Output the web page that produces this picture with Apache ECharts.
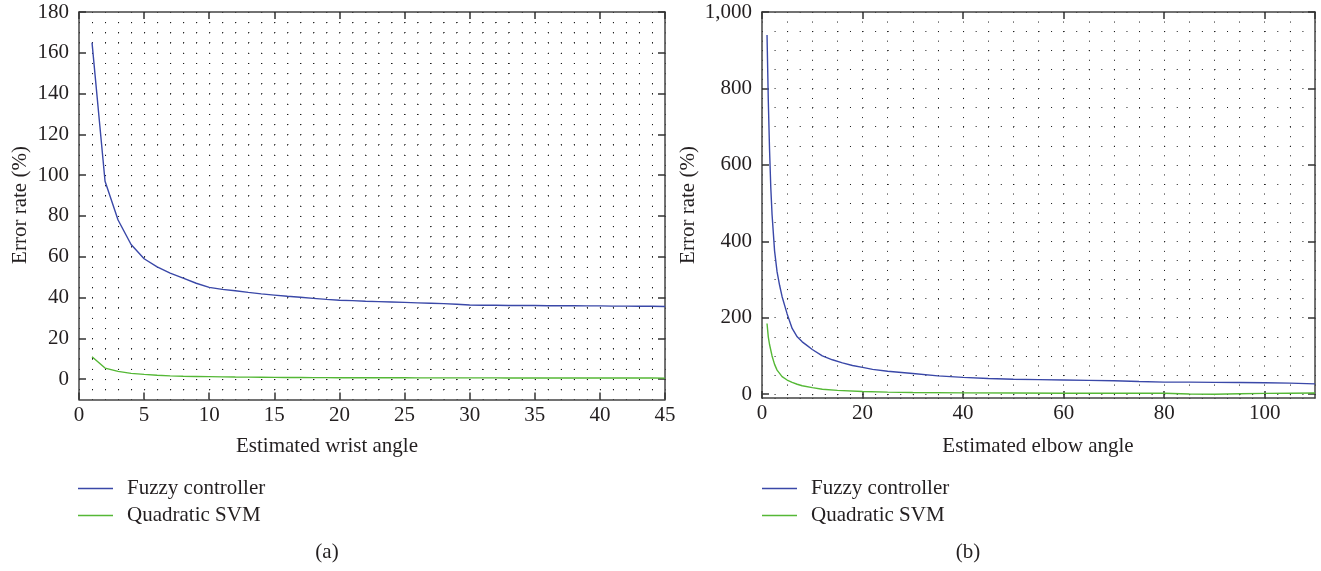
<!DOCTYPE html>
<html><head><meta charset="utf-8">
<script src="https://cdn.jsdelivr.net/npm/echarts@6/dist/echarts.min.js"></script>
<style>html,body{margin:0;padding:0;background:#fff}#c{width:1321px;height:571px}</style>
</head><body><div id="c"></div>
<script>
// ---------- DATA ----------
const wristAngle = [1,2,3,4,5,6,7,8,9,10,11,12,13,14,15,16,17,18,19,20,21,22,23,24,25,26,27,28,29,30,31,32,33,34,35,36,37,38,39,40,41,42,43,44,45];
const fuzzyWrist = [165,97,78,66,59,55,52,49.5,47,45,44,43.3,42.5,41.8,41.2,40.6,40.1,39.6,39.1,38.7,38.5,38.2,38,37.8,37.6,37.4,37.2,37,36.7,36.3,36.2,36.2,36.1,36.1,36.1,36,36,36,35.9,35.9,35.8,35.8,35.7,35.7,35.6];
const svmWrist = [11,5.4,3.8,2.8,2.3,1.9,1.6,1.4,1.3,1.2,1.1,1.0,0.95,0.9,0.85,0.8,0.78,0.75,0.72,0.7,0.68,0.66,0.65,0.64,0.63,0.62,0.61,0.6,0.6,0.59,0.58,0.58,0.57,0.57,0.56,0.56,0.55,0.55,0.54,0.54,0.53,0.53,0.52,0.52,0.5];

const fuzzyElbowAngle = [1,1.25,1.5,1.75,2,2.5,3,3.5,4,5,6,7,8,9,10,12,14,16,18,20,22,25,30,35,40,45,50,55,60,65,70,75,80,85,90,95,100,105,110];
const fuzzyElbow = [940,770,640,540,470,375,320,285,255,210,172,150,137,127,117,100,90,82,75,70,65,60,54,48,44,41,39,38,37,36,35,33,31.5,31.5,31,30.5,30,29,27];
const svmElbowAngle = [1,1.25,1.5,2,2.5,3,4,5,6,7,8,10,12,15,20,25,30,40,50,60,70,80,85,90,95,100,105,110];
const svmElbow = [185,150,130,100,78,63,46,37,31,26,22,17,13,10,7,5.5,4.5,3.5,3,2.5,2.5,2.5,0.5,0,1,2,2.5,3];

const wristYTicks = [0,20,40,60,80,100,120,140,160,180];
const elbowYTicks = [0,200,400,600,800,1000];
const seriesNames = ['Fuzzy controller','Quadratic SVM'];

// ---------- STYLE / LAYOUT ----------
const FONT = 'Liberation Serif';
const FS = 21;
const TXT = '#231f20';
const BLUE = '#3a48a8', GREEN = '#55b836';
const G1 = {left:79, top:12, width:586, height:387.5};
const G2 = {left:762, top:12, width:553, height:386};
const DOT = '#1a1a1a';

const lab = {fontFamily:FONT, fontSize:FS, color:TXT};
const axLine = {show:true, onZero:false, lineStyle:{color:'#444', width:1.5}};
const tick = (cv) => Object.assign({show:true, inside:true, length:7, lineStyle:{color:'#333', width:1.5}}, cv ? {customValues:cv} : {});

function visX(grid, min, max, interval, pos, showLab){
  return {type:'value', gridIndex:grid, position:pos, min, max, interval,
    axisLine:axLine, axisTick:tick(), splitLine:{show:false},
    axisLabel:{show:showLab, margin:5, showMaxLabel: max % interval === 0, ...lab}};
}
function visY(grid, min, max, ticks, pos, showLab, fmt){
  return {type:'value', gridIndex:grid, position:pos, min, max,
    axisLine:axLine, axisTick:tick(ticks), splitLine:{show:false},
    axisLabel:{show:showLab, margin:10, customValues:ticks, formatter:fmt, ...lab}};
}
function dotAxis(grid, min, max, interval, pos, period, inverse){
  return {type:'value', gridIndex:grid, position:pos, min, max, interval, inverse:!!inverse,
    axisLine:{show:false}, axisTick:{show:false}, axisLabel:{show:false},
    splitLine:{show:true, lineStyle:{color:DOT, width:1, type:[1, period-1]}}};
}

const vP1 = G1.height*5/190, hP1 = G1.width/45;
const vP2 = G2.height*25/1010, hP2 = G2.width*2.5/110;

const pairs = (xs, ys) => xs.map((x,i)=>[x, ys[i]]);
const thousand = v => Number(v).toLocaleString('en-US');
const font = FS + 'px "' + FONT + '"';

function legendAt(left){
  return {left, top:478, orient:'vertical', padding:0, icon:'rect', itemWidth:35, itemHeight:1.3, itemGap:6,
    data:seriesNames, selectedMode:false, textStyle:{...lab, lineHeight:20, padding:[0,0,0,9]}};
}

const option = {
  animation:false,
  backgroundColor:'#fff',
  grid:[Object.assign({containLabel:false}, G1), Object.assign({containLabel:false}, G2)],
  xAxis:[
    visX(0,0,45,5,'bottom',true),
    visX(0,0,45,5,'top',false),
    dotAxis(0,0,45,1,'bottom',vP1),
    visX(1,0,110,20,'bottom',true),
    visX(1,0,110,20,'top',false),
    dotAxis(1,0,110,5,'bottom',vP2)
  ],
  yAxis:[
    visY(0,-10,180,wristYTicks,'left',true),
    visY(0,-10,180,wristYTicks,'right',false),
    dotAxis(0,-10,180,5,'left',hP1),
    visY(1,-10,1000,elbowYTicks,'left',true,thousand),
    visY(1,-10,1000,elbowYTicks,'right',false),
    dotAxis(1,-1000,10,50,'left',hP2,true)
  ],
  legend:[legendAt(78), legendAt(762)],
  series:[
    {name:seriesNames[0], type:'line', xAxisIndex:0, yAxisIndex:0, symbol:'none', data:pairs(wristAngle,fuzzyWrist), lineStyle:{color:BLUE,width:1.4}, itemStyle:{color:BLUE}},
    {name:seriesNames[1], type:'line', xAxisIndex:0, yAxisIndex:0, symbol:'none', data:pairs(wristAngle,svmWrist), lineStyle:{color:GREEN,width:1.4}, itemStyle:{color:GREEN}},
    {name:seriesNames[0], type:'line', xAxisIndex:3, yAxisIndex:3, symbol:'none', data:pairs(fuzzyElbowAngle,fuzzyElbow), lineStyle:{color:BLUE,width:1.4}, itemStyle:{color:BLUE}},
    {name:seriesNames[1], type:'line', xAxisIndex:3, yAxisIndex:3, symbol:'none', data:pairs(svmElbowAngle,svmElbow), lineStyle:{color:GREEN,width:1.4}, itemStyle:{color:GREEN}}
  ],
  graphic:[
    {type:'text', x:20, y:205, rotation:Math.PI/2, style:{text:'Error rate (%)', fill:TXT, align:'center', verticalAlign:'middle', font}},
    {type:'text', x:688, y:205, rotation:Math.PI/2, style:{text:'Error rate (%)', fill:TXT, align:'center', verticalAlign:'middle', font}},
    {type:'text', x:327, y:446, style:{text:'Estimated wrist angle', fill:TXT, align:'center', verticalAlign:'middle', font}},
    {type:'text', x:1038, y:446, style:{text:'Estimated elbow angle', fill:TXT, align:'center', verticalAlign:'middle', font}},
    {type:'text', x:327, y:552, style:{text:'(a)', fill:TXT, align:'center', verticalAlign:'middle', font}},
    {type:'text', x:968, y:552, style:{text:'(b)', fill:TXT, align:'center', verticalAlign:'middle', font}}
  ]
};
const chart = echarts.init(document.getElementById('c'), null, {renderer:'canvas'});
chart.setOption(option);
</script></body></html>
